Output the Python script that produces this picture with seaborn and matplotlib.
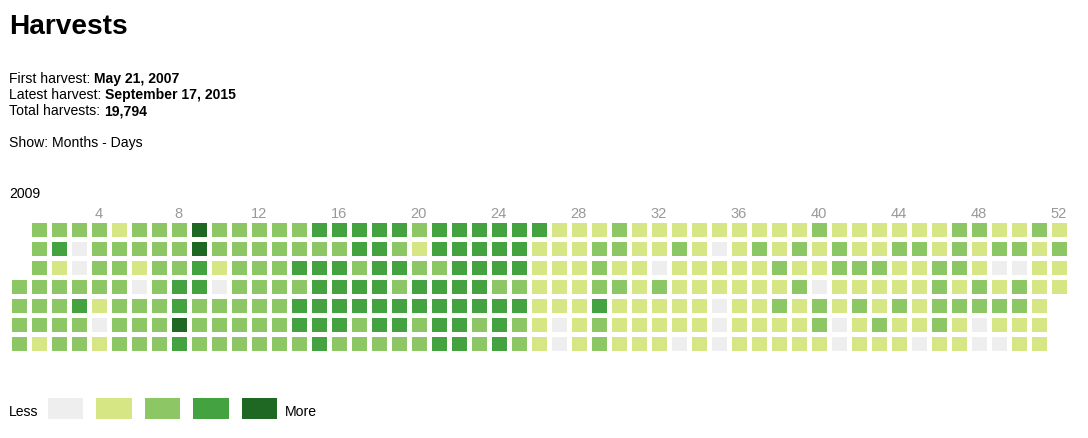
import numpy as np
import pandas as pd
import seaborn as sns
import matplotlib.pyplot as plt
from matplotlib.colors import ListedColormap

# niveaux de récolte par jour (0-4), une liste par jour de semaine, 53 semaines
lun = [None, 2,2,2,2,1,2,2,2,4,2,2,2, 2,2,3,3,3,3,3,2,3,3,3,3,3,3, 1,1,1,2,1,1,1,1,1,1,1,1,1, 2,1,1,1,1,1,1,2,2,1,1,2,1]
mar = [None, 2,3,0,2,2,2,2,2,4,2,2,2, 2,2,2,2,3,3,2,1,3,3,3,3,3,1, 1,1,2,2,1,1,2,1,0,1,2,1,2, 1,2,1,1,2,2,1,2,1,2,2,1,2]
mer = [None, 2,1,0,2,2,1,2,2,3,1,2,2, 2,3,3,3,2,3,3,2,2,3,3,3,3,1, 1,1,2,1,1,0,1,1,1,1,1,2,1, 1,2,2,2,1,1,2,2,1,0,0,1,1]
jeu = [2, 2,2,2,2,2,0,2,3,3,0,2,2, 2,2,3,3,3,3,2,3,3,3,3,2,2,1, 1,1,2,2,1,2,1,1,1,1,1,1,2, 0,1,1,1,1,1,2,1,2,1,2,1,1]
ven = [2, 2,2,3,1,2,2,2,3,2,2,2,2, 2,3,3,3,3,3,3,3,3,3,3,3,3,1, 1,1,3,1,1,1,1,1,0,1,1,2,1, 2,1,2,1,2,1,2,2,2,2,2,1,None]
sam = [2, 2,2,2,0,2,2,2,4,2,2,2,2, 2,3,3,3,2,3,3,2,3,3,2,3,2,1, 0,1,2,1,1,1,1,1,0,1,1,1,1, 2,0,1,2,1,1,2,1,0,1,1,1,None]
dim = [2, 1,2,2,1,2,2,2,3,2,2,2,2, 2,2,3,2,2,2,2,2,3,3,2,3,2,1, 0,1,2,1,1,1,0,1,0,1,1,1,1, 1,0,1,1,1,0,1,1,0,0,1,1,None]

semaines_label = [4, 8, 12, 16, 20, 24, 28, 32, 36, 40, 44, 48, 52]
niveaux = [0, 1, 2, 3, 4]
couleurs = ["#eeeeee", "#d6e685", "#8cc665", "#44a340", "#1e6823"]

W, H = 1088, 439
fig = plt.figure(figsize=(W / 100, H / 100), dpi=100)
plt.rcParams['font.family'] = ['Liberation Sans', 'DejaVu Sans']

def axe(x, y, w, h):
    # position en pixels depuis le coin haut gauche
    return fig.add_axes([x / W, 1 - (y + h) / H, w / W, h / H])

def texte(x, y, s, **kw):
    return fig.text(x / W, 1 - y / H, s, va='baseline', ha='left', **kw)

cmap = ListedColormap(couleurs)

##grille principale
df = pd.DataFrame([lun, mar, mer, jeu, ven, sam, dim], dtype=float)
ax = axe(8.75, 220.5, 1060, 133)
sns.heatmap(df, ax=ax, cmap=cmap, vmin=-0.5, vmax=4.5, cbar=False,
            linewidths=3.24, linecolor='white', xticklabels=False, yticklabels=False)
ax.set_xticks([k + 0.5 for k in semaines_label])
ax.set_xticklabels([str(k) for k in semaines_label])
ax.xaxis.tick_top()
ax.tick_params(axis='x', length=0, pad=0, colors='#999999', labelsize=10.5)
ax.set_xlabel("")
ax.set_ylabel("")

##légende
ax2 = axe(40.75, 391.75, 242.5, 34.5)
sns.heatmap(pd.DataFrame([niveaux], dtype=float), ax=ax2, cmap=cmap, vmin=-0.5, vmax=4.5,
            cbar=False, linewidths=9.0, linecolor='white', xticklabels=False, yticklabels=False)
ax2.set_xlabel("")
ax2.set_ylabel("")
texte(9, 416.5, "Less", fontsize=10.08)
texte(285, 416.5, "More", fontsize=10.08)

##textes
texte(9, 34, "Harvests", fontsize=20.16, fontweight='bold')
rend = fig.canvas.get_renderer()
lignes = [("First harvest: ", "May 21, 2007", 83),
          ("Latest harvest: ", "September 17, 2015", 99),
          ("Total harvests: ", "19,794", 115)]
for norm, gras, y in lignes:
    t = texte(9, y, norm, fontsize=10.08)
    bb = t.get_window_extent(rend)
    texte(bb.x1, y, gras, fontsize=10.08, fontweight='bold')
texte(9, 146.5, "Show: Months - Days", fontsize=10.08)
texte(9, 198.5, "2009", fontsize=10.08)

fig.savefig("out.png", dpi=100)
